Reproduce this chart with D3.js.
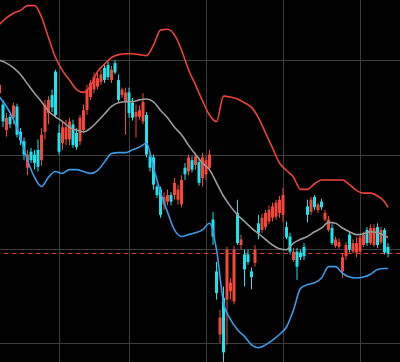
<!DOCTYPE html>
<html>
<head>
<meta charset="utf-8">
<script src="https://cdnjs.cloudflare.com/ajax/libs/d3/7.8.5/d3.min.js"></script>
<style>
  html, body { margin: 0; padding: 0; background: #000; }
  svg { display: block; }
</style>
</head>
<body>
<svg width="400" height="362"></svg>
<script>
const opens = [
  11.65, 11.53, 11.26, 11.40, 11.39, 11.51, 11.24, 11.14, 10.86, 11.03,
  11.00, 11.05, 10.94, 11.24, 11.44, 11.63, 11.88, 11.23, 11.12, 11.16,
  11.16, 11.32, 11.23, 11.14, 11.26, 11.47, 11.61, 11.69, 11.72, 11.77,
  11.92, 11.95, 11.79, 11.97, 11.79, 11.63, 11.56, 11.66, 11.55, 11.40,
  11.40, 11.35, 11.42, 10.98, 10.97, 10.66, 10.63, 10.47, 10.50, 10.57,
  10.57, 10.52, 10.47, 10.86, 10.82, 10.94, 10.89, 10.92, 10.75, 10.79,
  10.86, 10.31, 9.76, 9.09, 9.48, 9.46, 9.55, 9.44, 10.38, 10.04,
  9.94, 9.94, 9.76, 9.85, 10.27, 10.20, 10.23, 10.29, 10.33, 10.34,
  10.38, 10.36, 10.23, 10.13, 9.88, 9.97, 9.96, 10.02, 10.45, 10.39,
  10.55, 10.41, 10.50, 10.31, 10.20, 10.22, 10.03, 10.02, 9.76, 9.92,
  10.15, 9.97, 9.96, 9.97, 10.04, 10.20, 10.06, 10.04, 10.23, 10.07,
  10.20, 10.02
]
const highs = [
  11.79, 11.58, 11.44, 11.43, 11.55, 11.54, 11.28, 11.18, 11.05, 11.07,
  11.05, 11.16, 11.28, 11.58, 11.62, 11.69, 11.90, 11.32, 11.35, 11.37,
  11.39, 11.37, 11.28, 11.42, 11.53, 11.74, 11.79, 11.87, 11.87, 11.90,
  11.97, 12.00, 11.94, 12.00, 11.85, 11.71, 11.71, 11.71, 11.60, 11.53,
  11.52, 11.65, 11.45, 11.01, 11.00, 10.68, 10.66, 10.60, 10.63, 10.60,
  10.75, 10.68, 10.78, 10.91, 11.00, 10.98, 11.02, 10.97, 11.02, 10.98,
  11.05, 10.39, 9.86, 9.35, 9.60, 10.02, 9.69, 10.03, 10.52, 10.15,
  9.99, 9.99, 9.80, 10.04, 10.36, 10.37, 10.41, 10.46, 10.49, 10.52,
  10.56, 10.65, 10.29, 10.17, 10.01, 10.01, 9.99, 10.06, 10.52, 10.55,
  10.57, 10.49, 10.53, 10.41, 10.35, 10.26, 10.13, 10.11, 9.95, 10.07,
  10.18, 10.10, 10.12, 10.15, 10.18, 10.23, 10.26, 10.26, 10.27, 10.23,
  10.22, 10.06
]
const lows = [
  11.61, 11.29, 11.19, 11.28, 11.32, 11.18, 11.10, 10.94, 10.78, 10.91,
  10.84, 10.82, 10.88, 11.16, 11.32, 11.45, 11.39, 11.00, 11.05, 11.10,
  11.10, 11.07, 11.05, 11.10, 11.23, 11.42, 11.58, 11.65, 11.69, 11.74,
  11.76, 11.79, 11.76, 11.85, 11.55, 11.60, 11.21, 11.39, 11.36, 11.18,
  11.37, 11.32, 10.97, 10.82, 10.63, 10.54, 10.33, 10.41, 10.46, 10.46,
  10.52, 10.47, 10.44, 10.73, 10.78, 10.81, 10.84, 10.67, 10.66, 10.73,
  10.82, 10.04, 9.46, 9.00, 8.80, 8.98, 9.46, 9.41, 10.04, 9.99,
  9.60, 9.83, 9.57, 9.81, 10.10, 10.17, 10.20, 10.26, 10.29, 10.31,
  10.33, 10.28, 10.10, 9.94, 9.86, 9.67, 9.88, 9.88, 10.28, 10.36,
  10.41, 10.38, 10.41, 10.29, 10.18, 10.04, 10.01, 10.00, 9.69, 9.88,
  9.96, 9.95, 9.91, 9.94, 10.02, 10.03, 10.04, 10.02, 10.01, 10.05,
  9.94, 9.91
]
const closes = [
  11.74, 11.35, 11.39, 11.32, 11.52, 11.21, 11.15, 11.00, 11.00, 10.94,
  10.91, 10.87, 11.21, 11.53, 11.58, 11.50, 11.42, 11.03, 11.29, 11.29,
  11.35, 11.10, 11.08, 11.39, 11.47, 11.69, 11.76, 11.82, 11.81, 11.85,
  11.79, 11.82, 11.90, 11.87, 11.58, 11.69, 11.66, 11.44, 11.39, 11.45,
  11.47, 11.56, 11.00, 10.86, 10.68, 10.57, 10.36, 10.55, 10.57, 10.50,
  10.70, 10.63, 10.73, 10.79, 10.97, 10.84, 10.98, 10.70, 10.97, 10.94,
  11.00, 10.13, 9.53, 9.27, 8.90, 9.99, 9.64, 9.99, 10.06, 10.10,
  9.78, 9.86, 9.70, 9.99, 10.17, 10.33, 10.38, 10.41, 10.45, 10.49,
  10.52, 10.57, 10.12, 9.97, 9.97, 9.81, 9.91, 9.92, 10.36, 10.52,
  10.44, 10.47, 10.44, 10.38, 10.31, 10.06, 10.10, 10.07, 9.91, 10.04,
  9.99, 10.06, 10.06, 10.12, 10.15, 10.06, 10.22, 10.22, 10.04, 10.20,
  9.96, 9.95
]

// bollinger bands, sampled every second bar
const bandIdx = d3.range(0, 111, 2).concat([111])
const upper = [
  12.38, 12.45, 12.50, 12.53, 12.58, 12.58, 12.46, 12.24, 12.03, 11.89,
  11.79, 11.69, 11.66, 11.73, 11.88, 11.96, 12.03, 12.06, 12.07, 12.07,
  12.06, 12.05, 12.16, 12.32, 12.33, 12.27, 12.11, 11.90, 11.74, 11.57,
  11.42, 11.35, 11.62, 11.61, 11.59, 11.55, 11.50, 11.39, 11.23, 11.07,
  10.91, 10.83, 10.76, 10.63, 10.63, 10.69, 10.73, 10.73, 10.73, 10.73,
  10.68, 10.62, 10.59, 10.59, 10.56, 10.50, 10.44
]
const middle = [
  12.00, 11.97, 11.92, 11.85, 11.75, 11.65, 11.56, 11.46, 11.40, 11.35,
  11.29, 11.26, 11.24, 11.28, 11.35, 11.43, 11.51, 11.55, 11.56, 11.56,
  11.58, 11.59, 11.56, 11.47, 11.39, 11.29, 11.21, 11.10, 11.00, 10.91,
  10.84, 10.70, 10.56, 10.45, 10.36, 10.29, 10.22, 10.16, 10.10, 10.04,
  10.00, 9.99, 10.06, 10.10, 10.13, 10.18, 10.22, 10.28, 10.27, 10.22,
  10.18, 10.15, 10.16, 10.18, 10.17, 10.14, 10.12
]
const lower = [
  11.61, 11.51, 11.37, 11.18, 10.94, 10.76, 10.66, 10.76, 10.82, 10.80,
  10.84, 10.84, 10.82, 10.80, 10.83, 10.92, 11.01, 11.02, 11.02, 11.05,
  11.08, 11.12, 10.86, 10.60, 10.39, 10.20, 10.13, 10.15, 10.17, 10.20,
  10.27, 9.99, 9.43, 9.25, 9.14, 9.07, 8.98, 8.95, 8.98, 9.03,
  9.09, 9.17, 9.35, 9.58, 9.62, 9.64, 9.69, 9.81, 9.81, 9.74,
  9.70, 9.69, 9.70, 9.73, 9.78, 9.79, 9.79
]

const gridIdx = [17, 37, 59, 81, 103]
const gridPrices = [12, 11, 10, 9]

const W = 400, H = 362
const svg = d3.select("svg")
svg.append("rect").attr("width", W).attr("height", H).attr("fill", "#000")

const xScale = d3.scaleLinear().domain([0, 111]).range([-0.5, 388])
const yScale = d3.scaleLinear().domain([9, 12]).range([343, 60.3])

const crisp = v => Math.round(v) + 0.5

svg.append("g").selectAll("line")
  .data(gridPrices).enter().append("line")
  .attr("x1", 0).attr("x2", W)
  .attr("y1", d => crisp(yScale(d))).attr("y2", d => crisp(yScale(d)))
  .style("stroke", "#3d3d3d").style("stroke-width", "1px")

svg.append("g").selectAll("line")
  .data(gridIdx).enter().append("line")
  .attr("y1", 0).attr("y2", H)
  .attr("x1", d => crisp(xScale(d))).attr("x2", d => crisp(xScale(d)))
  .style("stroke", "#3d3d3d").style("stroke-width", "1px")

const lastY = crisp(yScale(closes[closes.length - 1]))
svg.append("line")
  .attr("x1", 4).attr("x2", W).attr("y1", lastY).attr("y2", lastY)
  .style("stroke", "#e0392c").style("stroke-width", "1.2px")
  .style("stroke-dasharray", "4,4")

const bars = opens.map((o, i) => ({ i, o, h: highs[i], l: lows[i], c: closes[i] }))
const upColor = "#f2473a", downColor = "#19e6ee"
const bw = 3

const barG = svg.append("g").selectAll("g")
  .data(bars).enter().append("g")
  .style("fill", d => d.c >= d.o ? upColor : downColor)
  .style("stroke", d => d.c >= d.o ? upColor : downColor)

barG.append("line")
  .attr("x1", d => xScale(d.i)).attr("x2", d => xScale(d.i))
  .attr("y1", d => yScale(d.h)).attr("y2", d => yScale(d.l))
  .style("stroke-width", "1px")

barG.append("rect")
  .attr("x", d => xScale(d.i) - bw / 2)
  .attr("width", bw)
  .attr("y", d => yScale(Math.max(d.o, d.c)))
  .attr("height", d => Math.max(1, Math.abs(yScale(d.o) - yScale(d.c))))
  .style("stroke", "none")

const bandLine = vals => d3.line()
  .x((d, k) => xScale(bandIdx[k]))
  .y(d => yScale(d))
  .curve(d3.curveMonotoneX)(vals)

const bands = [
  { vals: upper, color: "#ef4338" },
  { vals: middle, color: "#9c9c9c" },
  { vals: lower, color: "#3a9be8" }
]

svg.append("g").selectAll("path")
  .data(bands).enter().append("path")
  .attr("d", d => bandLine(d.vals))
  .style("fill", "none")
  .style("stroke", d => d.color)
  .style("stroke-width", "1.6px")
</script>
</body>
</html>
